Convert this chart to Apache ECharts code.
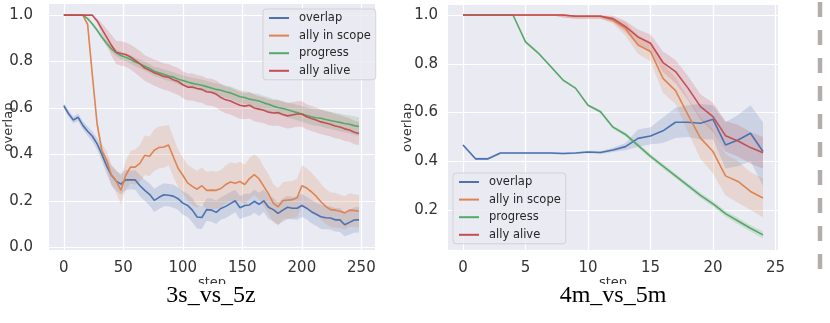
<!DOCTYPE html>
<html>
<head>
<meta charset="utf-8">
<script src="https://cdn.jsdelivr.net/npm/echarts@6/dist/echarts.min.js"></script>
<style>
  html, body { margin: 0; padding: 0; background: #fff; }
  #chart { width: 830px; height: 323px; }
</style>
</head>
<body>
<div id="chart"></div>
<script>
// ---- 3s_vs_5z (left) ----
const stepsA = [0,4,8,12,16,20,24,28,32,36,40,44,48,52,56,60,64,68,72,76,80,84,88,92,96,100,104,108,112,116,120,124,128,132,136,140,144,148,152,156,160,164,168,172,176,180,184,188,192,196,200,204,208,212,216,220,224,228,232,236,240,244,248];
const overlapA = [0.61,0.575,0.548,0.56,0.525,0.50,0.478,0.445,0.40,0.35,0.31,0.285,0.272,0.29,0.29,0.29,0.265,0.245,0.228,0.202,0.215,0.226,0.224,0.22,0.209,0.19,0.18,0.16,0.13,0.128,0.162,0.16,0.15,0.167,0.176,0.188,0.20,0.17,0.18,0.182,0.198,0.185,0.20,0.172,0.162,0.146,0.16,0.172,0.168,0.168,0.18,0.168,0.153,0.142,0.131,0.127,0.126,0.118,0.118,0.097,0.107,0.117,0.118];
const scopeA = [1,1,1,1,1,0.96,0.74,0.53,0.415,0.375,0.31,0.285,0.245,0.31,0.345,0.345,0.362,0.396,0.392,0.418,0.43,0.432,0.44,0.39,0.34,0.31,0.277,0.262,0.25,0.265,0.245,0.246,0.245,0.253,0.27,0.281,0.276,0.283,0.27,0.296,0.313,0.295,0.262,0.23,0.19,0.174,0.2,0.203,0.205,0.213,0.265,0.255,0.239,0.22,0.196,0.176,0.162,0.16,0.155,0.148,0.16,0.158,0.155];
const progressA = [1,1,1,1,1,0.985,0.962,0.935,0.905,0.878,0.855,0.838,0.826,0.818,0.81,0.798,0.79,0.78,0.77,0.758,0.752,0.745,0.738,0.733,0.724,0.718,0.712,0.706,0.702,0.698,0.692,0.686,0.68,0.676,0.67,0.665,0.657,0.648,0.645,0.638,0.634,0.63,0.622,0.616,0.608,0.602,0.598,0.592,0.586,0.58,0.574,0.568,0.562,0.558,0.556,0.55,0.546,0.542,0.538,0.533,0.53,0.524,0.52];
const aliveA = [1,1,1,1,1,1,1,0.975,0.94,0.905,0.87,0.84,0.835,0.83,0.82,0.805,0.79,0.772,0.762,0.752,0.744,0.736,0.732,0.722,0.714,0.70,0.69,0.69,0.684,0.68,0.67,0.668,0.66,0.645,0.635,0.63,0.62,0.612,0.608,0.612,0.60,0.595,0.59,0.582,0.578,0.58,0.572,0.566,0.57,0.574,0.574,0.562,0.555,0.548,0.54,0.535,0.53,0.522,0.518,0.51,0.505,0.495,0.49];
// half-width of the shaded bands
const spreadOverlapA = [0.012,0.014,0.015,0.016,0.018,0.02,0.022,0.025,0.03,0.035,0.04,0.042,0.045,0.045,0.04,0.042,0.045,0.046,0.048,0.05,0.05,0.05,0.048,0.05,0.048,0.05,0.05,0.052,0.05,0.05,0.048,0.05,0.05,0.048,0.05,0.05,0.048,0.05,0.05,0.048,0.05,0.05,0.048,0.05,0.05,0.048,0.05,0.05,0.048,0.05,0.05,0.048,0.05,0.05,0.052,0.05,0.05,0.05,0.052,0.05,0.052,0.055,0.055];
const spreadScopeA = [0,0,0,0,0,0.01,0.015,0.02,0.03,0.04,0.045,0.05,0.06,0.06,0.07,0.075,0.08,0.085,0.085,0.09,0.09,0.09,0.088,0.085,0.08,0.078,0.078,0.08,0.08,0.078,0.08,0.082,0.08,0.08,0.082,0.085,0.085,0.085,0.085,0.088,0.088,0.088,0.085,0.085,0.082,0.08,0.08,0.08,0.08,0.082,0.088,0.085,0.082,0.08,0.078,0.075,0.075,0.075,0.072,0.072,0.072,0.07,0.07];
const spreadProgressA = [0,0,0,0,0,0.004,0.006,0.008,0.01,0.012,0.014,0.015,0.016,0.017,0.018,0.018,0.019,0.02,0.02,0.02,0.021,0.021,0.022,0.022,0.022,0.023,0.023,0.024,0.024,0.025,0.025,0.025,0.026,0.026,0.027,0.027,0.028,0.028,0.028,0.029,0.029,0.03,0.03,0.03,0.031,0.031,0.032,0.032,0.033,0.033,0.034,0.034,0.035,0.035,0.036,0.036,0.037,0.037,0.038,0.038,0.039,0.04,0.04];
const spreadAliveA = [0,0,0,0,0,0,0,0.01,0.025,0.035,0.045,0.05,0.052,0.052,0.053,0.054,0.055,0.055,0.056,0.056,0.057,0.057,0.058,0.058,0.058,0.058,0.058,0.058,0.058,0.058,0.058,0.058,0.058,0.058,0.058,0.058,0.058,0.058,0.057,0.057,0.057,0.056,0.056,0.056,0.056,0.055,0.055,0.055,0.055,0.055,0.055,0.054,0.054,0.054,0.053,0.053,0.053,0.052,0.052,0.052,0.051,0.051,0.05];
const xTicksA = [0,50,100,150,200,250];
const yTicksA = [0,0.2,0.4,0.6,0.8,1.0];

// ---- 4m_vs_5m (right) ----
const stepsB = [0,1,2,3,4,5,6,7,8,9,10,11,12,13,14,15,16,17,18,19,20,21,22,23,24];
const overlapB = [0.467,0.41,0.41,0.434,0.434,0.434,0.434,0.434,0.432,0.434,0.438,0.436,0.446,0.46,0.494,0.504,0.525,0.56,0.56,0.556,0.572,0.467,0.487,0.515,0.44];
const overlapLoB = [0.462,0.405,0.405,0.43,0.43,0.43,0.43,0.43,0.428,0.43,0.433,0.43,0.438,0.445,0.46,0.47,0.475,0.495,0.50,0.49,0.49,0.37,0.38,0.40,0.30];
const overlapHiB = [0.472,0.415,0.415,0.438,0.438,0.438,0.438,0.438,0.436,0.438,0.443,0.442,0.455,0.475,0.53,0.54,0.58,0.62,0.63,0.635,0.63,0.56,0.59,0.63,0.56];
const scopeB = [1,1,1,1,1,1,1,1,1,0.995,0.995,0.995,0.978,0.945,0.877,0.85,0.74,0.69,0.59,0.495,0.44,0.34,0.317,0.276,0.249];
const scopeLoB = [1,1,1,1,1,1,1,1,0.99,0.985,0.985,0.985,0.965,0.915,0.84,0.81,0.68,0.635,0.52,0.41,0.35,0.26,0.23,0.2,0.17];
const scopeHiB = [1,1,1,1,1,1,1,1,1,1,1,1,0.99,0.97,0.915,0.89,0.8,0.745,0.66,0.58,0.53,0.43,0.4,0.355,0.33];
const progressB = [1,1,1,1,1,0.89,0.845,0.79,0.733,0.70,0.63,0.603,0.54,0.51,0.465,0.42,0.38,0.34,0.30,0.26,0.225,0.185,0.155,0.125,0.098];
const progressLoB = [1,1,1,1,1,0.885,0.84,0.785,0.728,0.695,0.625,0.597,0.533,0.502,0.456,0.41,0.37,0.33,0.29,0.249,0.213,0.173,0.142,0.112,0.083];
const progressHiB = [1,1,1,1,1,0.895,0.85,0.795,0.738,0.705,0.635,0.609,0.547,0.518,0.474,0.43,0.39,0.35,0.31,0.271,0.237,0.197,0.168,0.138,0.113];
const aliveB = [1,1,1,1,1,1,1,1,1,0.995,0.995,0.995,0.985,0.952,0.91,0.884,0.805,0.768,0.70,0.624,0.583,0.505,0.483,0.456,0.435];
const aliveLoB = [1,1,1,1,1,1,1,1,0.99,0.985,0.985,0.985,0.97,0.93,0.875,0.85,0.765,0.72,0.65,0.57,0.52,0.44,0.42,0.39,0.37];
const aliveHiB = [1,1,1,1,1,1,1,1,1,1,1,1,0.998,0.975,0.94,0.92,0.85,0.815,0.75,0.675,0.64,0.565,0.55,0.52,0.50];
const xTicksB = [0,5,10,15,20,25];
const yTicksB = [0.2,0.4,0.6,0.8,1.0];

const names = ['overlap', 'ally in scope', 'progress', 'ally alive'];
const colors = ['#4c72b0', '#dd8452', '#55a868', '#c44e52'];
const captions = ['3s_vs_5z', '4m_vs_5m'];

const FONT = 'DejaVu Sans';

function lineSeries(name, xs, ys, color, idx) {
  return {
    name, type: 'line', xAxisIndex: idx, yAxisIndex: idx,
    data: xs.map((x, i) => [x, ys[i]]),
    symbol: 'none', z: 3,
    lineStyle: { color, width: 1.6 },
    itemStyle: { color },
    emphasis: { disabled: true }
  };
}

function bandSeries(xs, lo, hi, color, idx) {
  return {
    type: 'custom', xAxisIndex: idx, yAxisIndex: idx, silent: true, z: 2,
    data: [[xs[0], lo[0]]],
    renderItem: (params, api) => {
      const pts = [];
      xs.forEach((x, i) => pts.push(api.coord([x, hi[i]])));
      for (let i = xs.length - 1; i >= 0; i--) pts.push(api.coord([xs[i], lo[i]]));
      return { type: 'polygon', shape: { points: pts }, style: { fill: color, opacity: 0.2 } };
    }
  };
}

function xAxis(idx, min, max, ticks) {
  return {
    type: 'value', gridIndex: idx, min, max,
    axisLine: { show: false },
    axisTick: { show: false, customValues: ticks },
    splitLine: { show: true, lineStyle: { color: '#ffffff', width: 1.2 } },
    axisLabel: { customValues: ticks, fontFamily: FONT, fontSize: 15, color: '#333', margin: 11 },
    name: 'step', nameLocation: 'middle', nameGap: 26, nameMoveOverlap: false,
    nameTextStyle: { fontFamily: FONT, fontSize: 13, color: '#333' }
  };
}

function yAxis(idx, min, max, ticks, margin) {
  return {
    type: 'value', gridIndex: idx, min, max,
    axisLine: { show: false },
    axisTick: { show: false, customValues: ticks },
    splitLine: { show: true, lineStyle: { color: '#ffffff', width: 1.2 } },
    axisLabel: { customValues: ticks, fontFamily: FONT, fontSize: 15, color: '#333', margin,
      formatter: v => v.toFixed(1) },
    name: 'overlap', nameLocation: 'middle', nameGap: 34, nameMoveOverlap: false,
    nameTextStyle: { fontFamily: FONT, fontSize: 13, color: '#333' }
  };
}

function legend(left, top) {
  return {
    data: names, orient: 'vertical', left, top,
    itemWidth: 20, itemHeight: 12, itemGap: 5.6,
    padding: [3, 5, 3, 5],
    backgroundColor: 'rgba(234,234,242,0.8)',
    borderColor: 'rgba(204,204,204,0.8)', borderWidth: 1, borderRadius: 3,
    itemStyle: { opacity: 0 },
    textStyle: { fontFamily: FONT, fontSize: 11.5, color: '#262626', lineHeight: 12, padding: [0, 0, 0, 5] }
  };
}

const seriesA = [overlapA, scopeA, progressA, aliveA];
const spreadsA = [spreadOverlapA, spreadScopeA, spreadProgressA, spreadAliveA];
const seriesB = [overlapB, scopeB, progressB, aliveB];
const loB = [overlapLoB, scopeLoB, progressLoB, aliveLoB];
const hiB = [overlapHiB, scopeHiB, progressHiB, aliveHiB];

const series = [];
seriesA.forEach((ys, k) => {
  const lo = ys.map((v, i) => v - spreadsA[k][i]);
  const hi = ys.map((v, i) => v + spreadsA[k][i]);
  series.push(bandSeries(stepsA, lo, hi, colors[k], 0));
});
seriesB.forEach((ys, k) => series.push(bandSeries(stepsB, loB[k], hiB[k], colors[k], 1)));
seriesA.forEach((ys, k) => series.push(lineSeries(names[k], stepsA, ys, colors[k], 0)));
seriesB.forEach((ys, k) => series.push(lineSeries(names[k], stepsB, ys, colors[k], 1)));

const chart = echarts.init(document.getElementById('chart'), null, { renderer: 'canvas' });
const option = {
  animation: false,
  backgroundColor: '#ffffff',
  grid: [
    { left: 49, top: 4, width: 326, height: 246, show: true, backgroundColor: '#eaeaf2', borderWidth: 0, outerBoundsMode: 'none', containLabel: false },
    { left: 448, top: 5, width: 330, height: 245, show: true, backgroundColor: '#eaeaf2', borderWidth: 0, outerBoundsMode: 'none', containLabel: false }
  ],
  xAxis: [xAxis(0, -12.45, 261.45, xTicksA), xAxis(1, -1.2, 25.2, xTicksB)],
  yAxis: [yAxis(0, -0.012, 1.048, yTicksA, 16), yAxis(1, 0.036, 1.041, yTicksB, 10)],
  legend: [legend(263, 9), legend(453, 173)],
  series,
  graphic: [
    { type: 'rect', z: 100, shape: { x: 0, y: 284, width: 830, height: 39 }, style: { fill: '#ffffff' } },
    { type: 'text', z: 101, x: 211, y: 308, style: { text: captions[0], font: '24px "Liberation Serif"', fill: '#000', textAlign: 'center', textVerticalAlign: 'bottom' } },
    { type: 'text', z: 101, x: 613, y: 308, style: { text: captions[1], font: '24px "Liberation Serif"', fill: '#000', textAlign: 'center', textVerticalAlign: 'bottom' } },
    { type: 'line', z: 101, shape: { x1: 820, y1: 2, x2: 820, y2: 270 }, style: { stroke: '#b3aeac', lineWidth: 4.5, lineDash: [15, 13] } }
  ]
};
chart.setOption(option);
</script>
</body>
</html>
